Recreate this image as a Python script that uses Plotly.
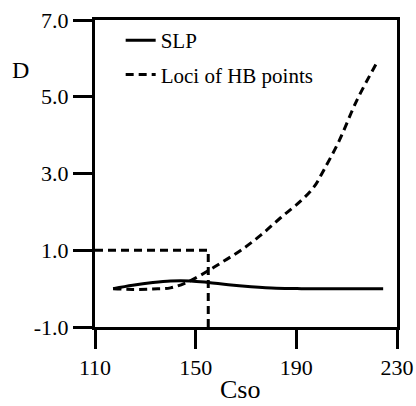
import plotly.graph_objects as go

# --- data ---
slp_x = [117.2, 125, 133, 140, 148, 155, 163, 172, 182, 192, 205, 224.5]
slp_y = [0.0, 0.09, 0.16, 0.20, 0.20, 0.16, 0.10, 0.05, 0.01, 0.0, 0.0, 0.0]

hb_x = [117.2, 125, 133, 140, 146, 152, 160, 168, 176, 184, 192, 197, 201, 207, 214, 222.5]
hb_y = [0.0, -0.02, -0.01, 0.02, 0.15, 0.35, 0.67, 1.0, 1.4, 1.86, 2.3, 2.65, 3.1, 3.85, 4.9, 5.95]

rect_x = [110, 155, 155]
rect_y = [1.0, 1.0, -1.0]

x_ticks = [110, 150, 190, 230]
x_ticktext = ["110", "150", "190", "230"]
y_ticks = [-1, 1, 3, 5, 7]
y_ticktext = ["-1.0", "1.0", "3.0", "5.0", "7.0"]

FONT = "Liberation Serif, Times New Roman, Times, serif"

fig = go.Figure()
fig.add_trace(go.Scatter(x=slp_x, y=slp_y, mode="lines", name="SLP",
                         line=dict(color="black", width=3, shape="spline"),
                         legendgroup="a"))
fig.add_trace(go.Scatter(x=hb_x, y=hb_y, mode="lines", name="Loci of HB points",
                         line=dict(color="black", width=3, dash="8px,5px", shape="spline"),
                         legendgroup="b"))
fig.add_trace(go.Scatter(x=rect_x, y=rect_y, mode="lines", showlegend=False,
                         line=dict(color="black", width=3, dash="8px,5px")))

axis_common = dict(showgrid=False, zeroline=False, showline=True, linecolor="black",
                   linewidth=3, ticks="outside", ticklen=19, tickwidth=3,
                   tickcolor="black", mirror=True, automargin=False,
                   tickfont=dict(family=FONT, size=22, color="black"))

fig.update_xaxes(range=[110, 230], tickmode="array", tickvals=x_ticks,
                 ticktext=x_ticktext, **axis_common)
fig.update_yaxes(range=[-1, 7], tickmode="array", tickvals=y_ticks,
                 ticktext=y_ticktext, **axis_common)

fig.update_layout(
    width=416, height=406,
    margin=dict(l=95, r=19, t=20, b=79),
    paper_bgcolor="white", plot_bgcolor="white",
    font=dict(family=FONT, color="black", size=21),
    legend=dict(x=0.085, y=1.0, xanchor="left", yanchor="top",
                bgcolor="rgba(0,0,0,0)", font=dict(family=FONT, size=21),
                tracegroupgap=4),
    annotations=[
        dict(text="D", xref="paper", yref="paper", x=-0.248, y=0.837,
             xanchor="center", yanchor="middle",
             showarrow=False, font=dict(family=FONT, size=24, color="black")),
        dict(text="Cso", xref="paper", yref="paper", x=0.48, y=-0.257,
             xanchor="center", yanchor="bottom",
             showarrow=False, font=dict(family=FONT, size=26, color="black")),
    ],
)

fig.write_html("out.html",
               config={"displayModeBar": False},
               post_script="document.body.style.margin='0';document.body.style.overflow='hidden';")
